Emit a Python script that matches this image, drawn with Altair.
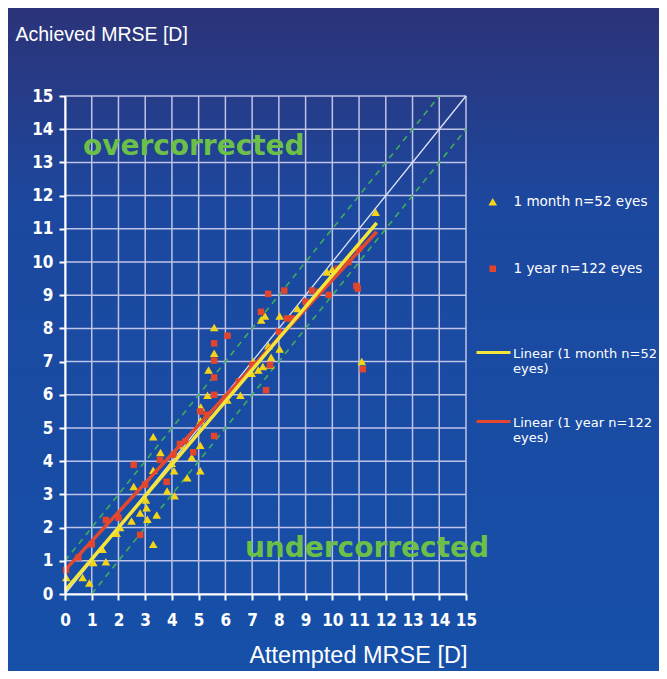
import altair as alt
import pandas as pd

# ---------------- data ----------------
ticks = list(range(16))

month_x = [0.05, 0.66, 0.91, 1.06, 1.40, 1.53, 1.93, 2.06, 2.49, 2.57, 2.81, 3.05, 3.08, 3.03,
           3.30, 3.43, 3.30, 3.30, 3.57, 3.82, 4.10, 4.08, 3.99, 4.30, 4.57, 4.74, 5.06, 5.06,
           5.07, 5.08, 5.33, 5.37, 5.58, 5.58, 6.07, 6.56, 6.98, 7.04, 7.23, 7.40, 7.67, 7.71,
           7.61, 7.34, 7.48, 8.03, 8.03, 8.70, 9.80, 10.00, 11.10, 11.62]
month_y = [0.50, 0.50, 0.33, 0.95, 1.35, 0.97, 1.83, 2.00, 2.20, 3.24, 2.44, 2.60, 2.25, 2.83,
           1.50, 2.38, 4.74, 3.73, 4.26, 3.10, 2.96, 3.71, 3.94, 4.49, 3.50, 4.12, 3.71, 4.48,
           5.22, 5.63, 5.99, 6.75, 7.25, 8.03, 5.84, 5.99, 6.65, 7.00, 6.75, 6.85, 6.90, 7.13,
           7.48, 8.25, 8.37, 8.37, 7.38, 8.60, 9.70, 9.78, 7.00, 11.50]

year_x = [0.04, 0.50, 1.00, 1.53, 2.00, 2.57, 2.81, 3.00, 3.55, 3.80, 4.06, 4.30, 4.50, 4.80,
          5.06, 5.30, 5.58, 5.58, 5.58, 5.58, 5.58, 6.00, 6.08, 6.50, 7.00, 7.33, 7.52, 7.60,
          7.67, 8.00, 8.20, 8.30, 8.50, 9.00, 9.24, 9.50, 9.86, 10.20, 10.60, 10.90, 10.95,
          11.00, 11.14]
year_y = [0.72, 1.10, 1.50, 2.23, 2.30, 3.89, 1.78, 3.30, 4.04, 3.38, 4.19, 4.52, 4.60, 4.27,
          5.50, 5.40, 4.76, 6.00, 6.52, 7.03, 7.55, 5.90, 7.78, 6.40, 6.90, 8.50, 6.14, 9.04,
          6.90, 7.90, 9.14, 8.30, 8.30, 8.80, 9.14, 9.10, 9.01, 9.80, 10.00, 9.28, 9.20,
          10.40, 6.77]

series_names = ["1 month n=52 eyes", "1 year n=122 eyes"]
fit_names = ["Linear (1 month n=52 eyes)", "Linear (1 year n=122 eyes)"]

# trend-line end points
fit_month_x = [0.0, 11.66]
fit_month_y = [0.10, 11.18]
fit_year_x = [0.0, 11.66]
fit_year_y = [0.72, 10.91]

# reference lines
ref_x = [0, 15]
ref_y = [0, 15]
upper_x = [0, 14]
upper_y = [1, 15]
lower_x = [1, 15]
lower_y = [0, 14]

notes = ["overcorrected", "undercorrected"]
notes_x = [0.67, 6.73]
notes_y = [13.46, 1.36]

# ---------------- frames ----------------
pts = pd.DataFrame({
    "series": [series_names[0]] * len(month_x) + [series_names[1]] * len(year_x),
    "x": month_x + year_x,
    "y": month_y + year_y,
})
fits = pd.DataFrame({
    "fit": [fit_names[1]] * 2 + [fit_names[0]] * 2,
    "x": fit_year_x + fit_month_x,
    "y": fit_year_y + fit_month_y,
    "o": [0, 1, 2, 3],
})
diag = pd.DataFrame({"x": ref_x, "y": ref_y})
dashes = pd.DataFrame({
    "k": ["u", "u", "l", "l"],
    "x": upper_x + lower_x,
    "y": upper_y + lower_y,
})
note_df = pd.DataFrame({"t": notes, "x": notes_x, "y": notes_y})
tick_df = pd.DataFrame({"v": ticks})

W, H = 401, 498
PAD = {"left": 57, "top": 88, "right": 193, "bottom": 77}

xs = alt.Scale(domain=[0, 15], nice=False, zero=True)
ys = alt.Scale(domain=[0, 15], nice=False, zero=True)

AX_FONT = "Liberation Sans Narrow, DejaVu Sans Condensed, Liberation Sans, Arial"
TXT_FONT = "Liberation Sans, Arial"

x_axis = alt.Axis(values=ticks, grid=False, domainColor="white", domainWidth=2,
                  tickColor="white", tickWidth=2, tickSize=6, labelColor="white",
                  labelFont=AX_FONT, labelFontSize=17, labelFontWeight="bold",
                  labelPadding=12, labelFlush=False, labelOverlap=False,
                  title="Attempted MRSE [D]", titleColor="white", titleFont=TXT_FONT,
                  titleFontSize=23.5, titleFontWeight="normal", titleX=W + 1, titleY=68,
                  titleAlign="right", titleBaseline="alphabetic", zindex=1)
y_axis = alt.Axis(values=ticks, grid=False, domainColor="white", domainWidth=2,
                  tickColor="white", tickWidth=2, tickSize=6, labelColor="white",
                  labelFont=AX_FONT, labelFontSize=17, labelFontWeight="bold",
                  labelPadding=6, labelFlush=False, labelOverlap=False,
                  title="Achieved MRSE [D]", titleColor="white", titleFont=TXT_FONT,
                  titleFontSize=19.5, titleFontWeight="normal", titleAngle=0,
                  titleX=-50, titleY=-56, titleAlign="left", titleBaseline="alphabetic",
                  zindex=1)

X = lambda f: alt.X(f, scale=xs, axis=x_axis)
Y = lambda f: alt.Y(f, scale=ys, axis=y_axis)

bg_grad = alt.LinearGradient(
    gradient="linear", x1=0, x2=0, y1=0, y2=1,
    stops=[alt.GradientStop(color="#2b3379", offset=0),
           alt.GradientStop(color="#263c88", offset=0.13),
           alt.GradientStop(color="#1c489f", offset=0.3),
           alt.GradientStop(color="#1650a9", offset=1)])

bg = alt.Chart(pd.DataFrame({"a": [0]})).mark_rect(color=bg_grad).encode(
    x=alt.value(-PAD["left"]), x2=alt.value(W + PAD["right"]),
    y=alt.value(-PAD["top"]), y2=alt.value(H + PAD["bottom"]))

grid_color = "#bfc3e6"
vgrid = alt.Chart(tick_df).mark_rule(color=grid_color, strokeWidth=1.5).encode(x=X("v:Q"))
hgrid = alt.Chart(tick_df).mark_rule(color=grid_color, strokeWidth=1.5).encode(y=Y("v:Q"))

diag_line = alt.Chart(diag).mark_line(color="#dfe4f6", strokeWidth=1.3).encode(
    x=X("x:Q"), y=Y("y:Q"))

dash_lines = alt.Chart(dashes).mark_line(color="#3fae5a", strokeWidth=1.6,
                                         strokeDash=[6, 5]).encode(
    x=X("x:Q"), y=Y("y:Q"), detail="k:N")

points = alt.Chart(pts).mark_point(filled=True, opacity=1).encode(
    x=X("x:Q"),
    y=Y("y:Q"),
    color=alt.Color("series:N",
                    scale=alt.Scale(domain=series_names, range=["#f4d418", "#e3452c"]),
                    legend=alt.Legend(orient="none", legendX=421, legendY=99, title=None,
                                      labelColor="white", labelFont="DejaVu Sans",
                                      labelFontSize=13.5, labelOffset=14, rowPadding=52,
                                      symbolSize=55, padding=0, labelLimit=300)),
    shape=alt.Shape("series:N",
                    scale=alt.Scale(domain=series_names, range=["triangle-up", "square"]),
                    legend=None),
    size=alt.Size("series:N",
                  scale=alt.Scale(domain=series_names, range=[75, 42]),
                  legend=None),
)

fit_lines = alt.Chart(fits).mark_line(strokeWidth=3.5).encode(
    x=X("x:Q"),
    y=Y("y:Q"),
    order="o:Q",
    color=alt.Color("fit:N",
                    scale=alt.Scale(domain=fit_names, range=["#f5e43c", "#e2492f"]),
                    sort=fit_names,
                    legend=alt.Legend(orient="none", legendX=410, legendY=243, title=None,
                                      labelColor="white", labelFont="DejaVu Sans",
                                      labelFontSize=13, labelOffset=1, rowPadding=32,
                                      symbolType="M-1,-0.3H1", symbolSize=1156,
                                      symbolStrokeWidth=3, padding=0, labelLimit=300,
                                      labelBaseline="alphabetic",
                                      labelExpr="split(replace(datum.label, ' eyes)', '|eyes)'), '|')")),
)

note_text = alt.Chart(note_df).mark_text(align="left", baseline="middle",
                                          font="DejaVu Sans", fontWeight="bold",
                                          fontSize=28, color="#6cbf48").encode(
    x=X("x:Q"), y=Y("y:Q"), text="t:N")

chart = alt.layer(bg, vgrid, hgrid, diag_line, dash_lines, points, fit_lines, note_text).resolve_scale(
    color="independent", shape="independent", size="independent"
).properties(
    width=W, height=H,
    autosize=alt.AutoSizeParams(type="none"),
    padding=PAD,
    background="#1c489f",
).configure_view(stroke=None)

chart.save("out.html", embed_options={"renderer": "svg", "actions": False})
